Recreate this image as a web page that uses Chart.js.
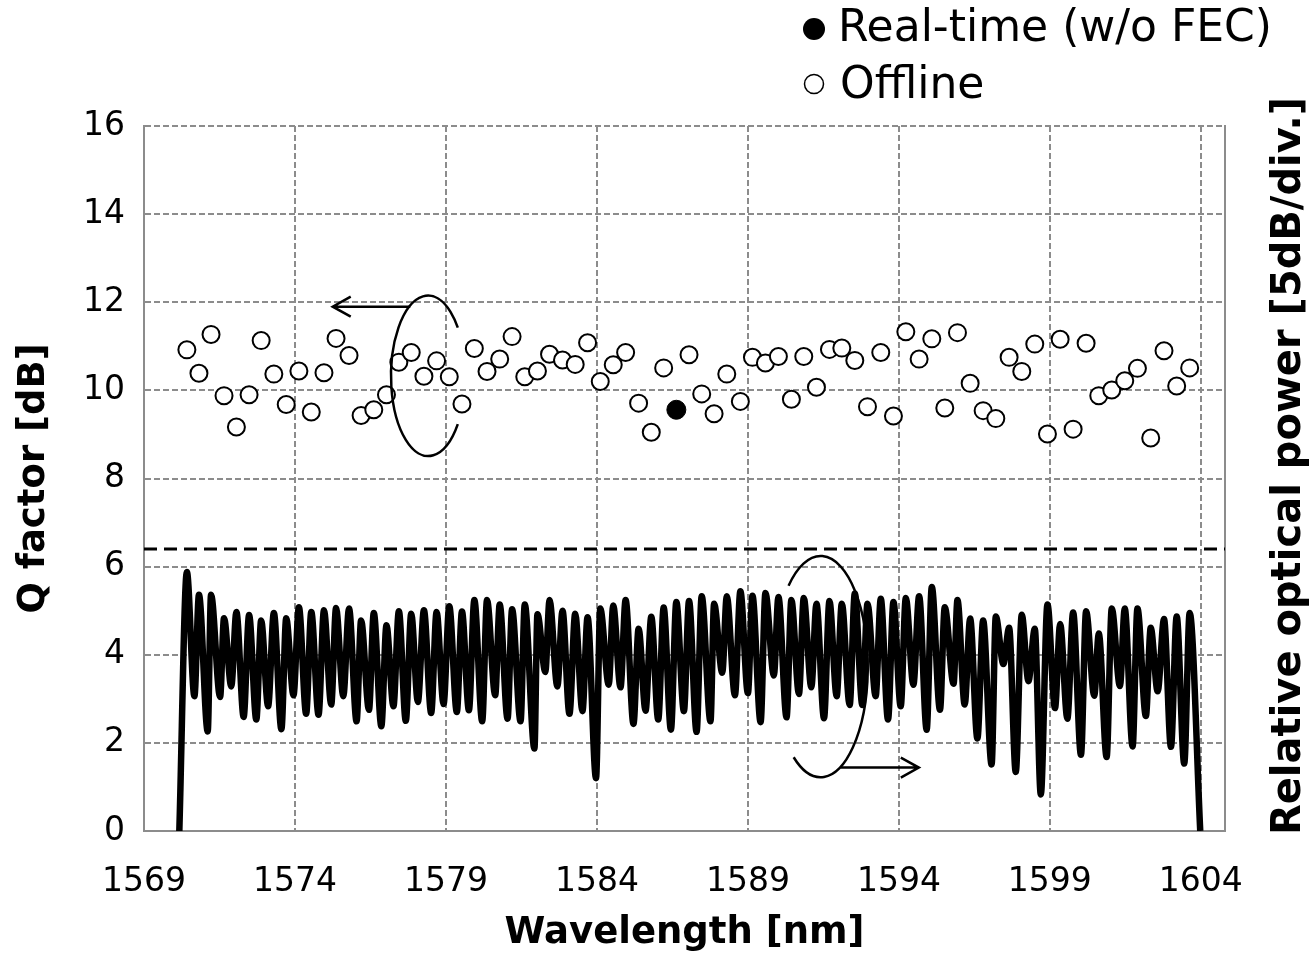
<!DOCTYPE html>
<html>
<head>
<meta charset="utf-8">
<script src="https://cdn.jsdelivr.net/npm/chart.js@4.4.1/dist/chart.umd.min.js"></script>
<style>
  html, body { margin: 0; padding: 0; background: #fff; }
  #wrap { width: 1312px; height: 956px; }
</style>
</head>
<body>
<div id="wrap"><canvas id="myChart"></canvas></div>
<script>
// x axis tick labels [nm]
const xTicks = [1569, 1574, 1579, 1584, 1589, 1594, 1599, 1604];

// channel wavelengths [nm]
const wavelength = [
  1570.42, 1570.82, 1571.22, 1571.65, 1572.06, 1572.48, 1572.88, 1573.30, 1573.71, 1574.13,
  1574.54, 1574.96, 1575.36, 1575.79, 1576.19, 1576.61, 1577.03, 1577.44, 1577.85, 1578.27,
  1578.69, 1579.11, 1579.53, 1579.94, 1580.36, 1580.78, 1581.19, 1581.61, 1582.03, 1582.43,
  1582.86, 1583.28, 1583.69, 1584.11, 1584.54, 1584.95, 1585.38, 1585.80, 1586.21, 1586.63,
  1587.05, 1587.47, 1587.88, 1588.30, 1588.75, 1589.15, 1589.58, 1590.01, 1590.44, 1590.85,
  1591.27, 1591.70, 1592.11, 1592.54, 1592.96, 1593.40, 1593.82, 1594.23, 1594.67, 1595.09,
  1595.52, 1595.94, 1596.36, 1596.79, 1597.21, 1597.65, 1598.07, 1598.50, 1598.92, 1599.34,
  1599.77, 1600.20, 1600.62, 1601.05, 1601.48, 1601.90, 1602.34, 1602.78, 1603.20, 1603.63
];

// Q factor, offline [dB] (channel 40 measured in real time)
const qOffline = [
  10.92, 10.39, 11.27, 9.88, 9.17, 9.90, 11.13, 10.37, 9.68, 10.44,
  9.51, 10.40, 11.18, 10.79, 9.43, 9.56, 9.90, 10.64, 10.86, 10.32,
  10.67, 10.31, 9.69, 10.95, 10.43, 10.71, 11.22, 10.31, 10.44, 10.82,
  10.69, 10.59, 11.08, 10.20, 10.58, 10.86, 9.71, 9.05, 10.51, null,
  10.81, 9.92, 9.47, 10.37, 9.75, 10.75, 10.62, 10.77, 9.80, 10.77,
  10.07, 10.93, 10.96, 10.68, 9.63, 10.86, 9.42, 11.33, 10.71, 11.17,
  9.60, 11.31, 10.16, 9.54, 9.36, 10.75, 10.43, 11.05, 9.01, 11.16,
  9.12, 11.07, 9.88, 10.01, 10.22, 10.50, 8.92, 10.90, 10.10, 10.51
];

// Q factor, real time w/o FEC
const realTimeWavelength = [1586.63];
const qRealTime = [9.56];

// FEC limit [dB]
const fecLimit = 6.4;

// optical spectrum (drawn on right axis, 5 dB/div = 2 grid units)
const peakPower = [
  5.88, 5.36, 5.36, 4.83, 4.97, 4.90, 4.78, 4.95, 4.83, 5.08,
  4.97, 5.01, 5.06, 5.05, 4.78, 4.95, 4.67, 4.99, 4.93, 5.01,
  4.97, 5.10, 4.98, 5.24, 5.24, 5.14, 5.03, 5.14, 4.92, 5.24,
  5.00, 4.93, 4.85, 5.05, 5.12, 5.24, 4.59, 4.86, 5.07, 5.20,
  5.22, 5.33, 5.16, 5.33, 5.44, 5.34, 5.40, 5.31, 5.24, 5.29,
  5.16, 5.22, 5.16, 5.39, 5.16, 5.27, 5.20, 5.29, 5.33, 5.54,
  5.08, 5.24, 4.82, 4.78, 4.87, 4.61, 4.91, 4.59, 5.14, 4.70,
  4.96, 4.99, 4.48, 5.05, 5.05, 5.05, 4.61, 4.81, 4.87, 4.95
];
const troughWavelength = [
  1570.67, 1571.11, 1571.52, 1571.89, 1572.30, 1572.72, 1573.11, 1573.55, 1573.95, 1574.37,
  1574.78, 1575.20, 1575.60, 1576.04, 1576.45, 1576.86, 1577.26, 1577.67, 1578.07, 1578.51,
  1578.92, 1579.36, 1579.76, 1580.20, 1580.63, 1581.04, 1581.47, 1581.93, 1582.29, 1582.69,
  1583.09, 1583.52, 1583.97, 1584.39, 1584.78, 1585.21, 1585.61, 1586.03, 1586.45, 1586.88,
  1587.30, 1587.76, 1588.15, 1588.57, 1589.00, 1589.42, 1589.86, 1590.28, 1590.69, 1591.10,
  1591.52, 1591.94, 1592.37, 1592.79, 1593.23, 1593.64, 1594.06, 1594.48, 1594.92, 1595.36,
  1595.81, 1596.18, 1596.60, 1597.07, 1597.46, 1597.87, 1598.29, 1598.70, 1599.17, 1599.58,
  1600.03, 1600.47, 1600.88, 1601.32, 1601.74, 1602.18, 1602.57, 1603.01, 1603.45
];
const troughPower = [
  3.06, 2.26, 3.04, 3.28, 2.59, 2.53, 2.83, 2.31, 3.08, 2.66,
  2.64, 2.87, 3.06, 2.49, 2.75, 2.38, 2.83, 2.50, 2.93, 2.68,
  2.88, 2.70, 2.74, 2.49, 3.08, 2.55, 2.49, 1.87, 3.61, 3.28,
  2.66, 2.72, 1.20, 3.32, 3.26, 2.43, 2.73, 2.53, 2.30, 2.72,
  2.25, 2.49, 3.59, 3.08, 3.13, 2.47, 3.53, 2.58, 3.11, 3.26,
  2.56, 3.06, 2.86, 2.86, 3.06, 2.53, 2.83, 3.32, 2.30, 2.75,
  3.34, 2.87, 2.10, 1.51, 3.79, 1.34, 3.40, 0.83, 2.79, 2.55,
  1.73, 3.07, 1.68, 3.29, 1.92, 2.61, 3.17, 1.91, 1.53
];
const edgeWavelength = [1570.17, 1603.98];
const edgePower = [0, 0];

const FONT = '"DejaVu Sans", Verdana, sans-serif';
const GRID = '#8c8c8c';

const offlinePoints = wavelength
  .map((w, i) => ({ x: w, y: qOffline[i] }))
  .filter(p => p.y !== null);
const realTimePoints = realTimeWavelength.map((w, i) => ({ x: w, y: qRealTime[i] }));

const spectrumPoints = [{ x: edgeWavelength[0], y: edgePower[0] }];
peakPower.forEach((p, i) => {
  spectrumPoints.push({ x: wavelength[i], y: p });
  if (i < troughPower.length) spectrumPoints.push({ x: troughWavelength[i], y: troughPower[i] });
});
spectrumPoints.push({ x: edgeWavelength[1], y: edgePower[1] });

// legend, right axis title and the arrow/ellipse marks
const extras = {
  id: 'extras',
  afterDatasetsDraw(chart) {
    const { ctx, scales: { x, y } } = chart;
    const px = v => x.getPixelForValue(v);
    const py = v => y.getPixelForValue(v);

    const arrow = (x1, y1, x2, y2) => {
      ctx.beginPath();
      ctx.moveTo(x1, y1);
      ctx.lineTo(x2, y2);
      const dir = Math.sign(x2 - x1);
      ctx.moveTo(x2 - dir * 18, y2 - 10);
      ctx.lineTo(x2, y2);
      ctx.lineTo(x2 - dir * 18, y2 + 10);
      ctx.stroke();
    };
    const deg = d => d * Math.PI / 180;

    ctx.save();
    ctx.strokeStyle = '#000';
    ctx.lineWidth = 2.5;
    // Q factor -> left axis
    let cx = px(1578.41), cy = py(10.33);
    ctx.beginPath();
    ctx.ellipse(cx, cy, px(1578.41 + 1.23) - cx, cy - py(10.33 + 1.82), 0, deg(37), deg(323));
    ctx.stroke();
    arrow(px(1577.82), py(11.9), px(1575.25), py(11.9));
    // spectrum -> right axis
    cx = px(1591.41); cy = py(3.73);
    ctx.beginPath();
    ctx.ellipse(cx, cy, px(1591.41 + 1.56) - cx, cy - py(3.73 + 2.51), 0, deg(227), deg(485));
    ctx.stroke();
    arrow(px(1592.07), py(1.44), px(1594.66), py(1.44));
    ctx.restore();
  },
  afterDraw(chart) {
    const { ctx } = chart;
    ctx.save();
    ctx.fillStyle = '#000';
    ctx.strokeStyle = '#000';
    // legend
    ctx.beginPath();
    ctx.arc(814, 29, 11, 0, Math.PI * 2);
    ctx.fill();
    ctx.lineWidth = 1.5;
    ctx.beginPath();
    ctx.arc(814, 84, 9.5, 0, Math.PI * 2);
    ctx.stroke();
    ctx.font = '44px ' + FONT;
    ctx.textAlign = 'left';
    ctx.textBaseline = 'middle';
    ctx.fillText('Real-time (w/o FEC)', 838, 30);
    ctx.fillText('Offline', 840, 87);
    // right axis title (reads bottom to top)
    ctx.translate(1290, 466);
    ctx.rotate(-Math.PI / 2);
    ctx.font = 'bold 40px ' + FONT;
    ctx.textAlign = 'center';
    ctx.fillText('Relative optical power [5dB/div.]', 0, 0);
    ctx.restore();
  }
};

const ctx = document.getElementById('myChart').getContext('2d');
const myChart = new Chart(ctx, {
  type: 'scatter',
  data: {
    datasets: [
      {
        label: 'Real-time (w/o FEC)',
        data: realTimePoints,
        pointRadius: 9.5,
        pointBorderWidth: 1,
        backgroundColor: '#000',
        borderColor: '#000',
      },
      {
        label: 'Offline',
        data: offlinePoints,
        pointRadius: 8.5,
        pointBorderWidth: 2,
        backgroundColor: '#fff',
        borderColor: '#000',
      },
      {
        label: 'FEC limit',
        data: [{ x: 1569, y: fecLimit }, { x: 1604.8, y: fecLimit }],
        showLine: true,
        pointRadius: 0,
        borderColor: '#000',
        borderWidth: 3,
        borderDash: [13, 7],
      },
      {
        label: 'Spectrum',
        data: spectrumPoints,
        yAxisID: 'y2',
        showLine: true,
        pointRadius: 0,
        borderColor: '#000',
        borderWidth: 6.5,
        cubicInterpolationMode: 'monotone',
        clip: 0,
      },
    ],
  },
  options: {
    responsive: true,
    maintainAspectRatio: false,
    animation: false,
    devicePixelRatio: 1,
    layout: { padding: { top: 126, left: 0, right: 0, bottom: 0 } },
    plugins: {
      legend: { display: false },
      tooltip: { enabled: false },
    },
    scales: {
      x: {
        type: 'linear',
        min: 1569,
        max: 1604.8,
        afterFit: s => { s.height = 125; },
        afterBuildTicks: s => { s.ticks = xTicks.map(v => ({ value: v })); },
        ticks: {
          maxRotation: 0,
          autoSkip: false,
          color: '#000',
          padding: 32,
          font: { family: FONT, size: 33 },
          callback: v => String(v),
        },
        grid: { color: GRID, lineWidth: 2, drawTicks: false },
        border: { display: true, color: GRID, width: 2, dash: [6, 3] },
        title: {
          display: true,
          text: 'Wavelength [nm]',
          color: '#000',
          padding: { top: 0, bottom: 0 },
          font: { family: FONT, size: 37, weight: 'bold' },
        },
      },
      y: {
        min: 0,
        max: 16,
        afterFit: s => { s.width = 144; },
        ticks: {
          stepSize: 2,
          color: '#000',
          padding: 19,
          font: { family: FONT, size: 33 },
        },
        grid: { color: GRID, lineWidth: 2, drawTicks: false },
        border: { display: true, color: GRID, width: 2, dash: [6, 3] },
        title: {
          display: true,
          text: 'Q factor [dB]',
          color: '#000',
          padding: { top: 12, bottom: 0 },
          font: { family: FONT, size: 37, weight: 'bold' },
        },
      },
      y2: {
        position: 'right',
        min: 0,
        max: 16,
        afterFit: s => { s.width = 87; },
        ticks: { display: false },
        grid: { display: false },
        border: { display: true, color: GRID, width: 2 },
      },
    },
  },
  plugins: [extras],
});
</script>
</body>
</html>
